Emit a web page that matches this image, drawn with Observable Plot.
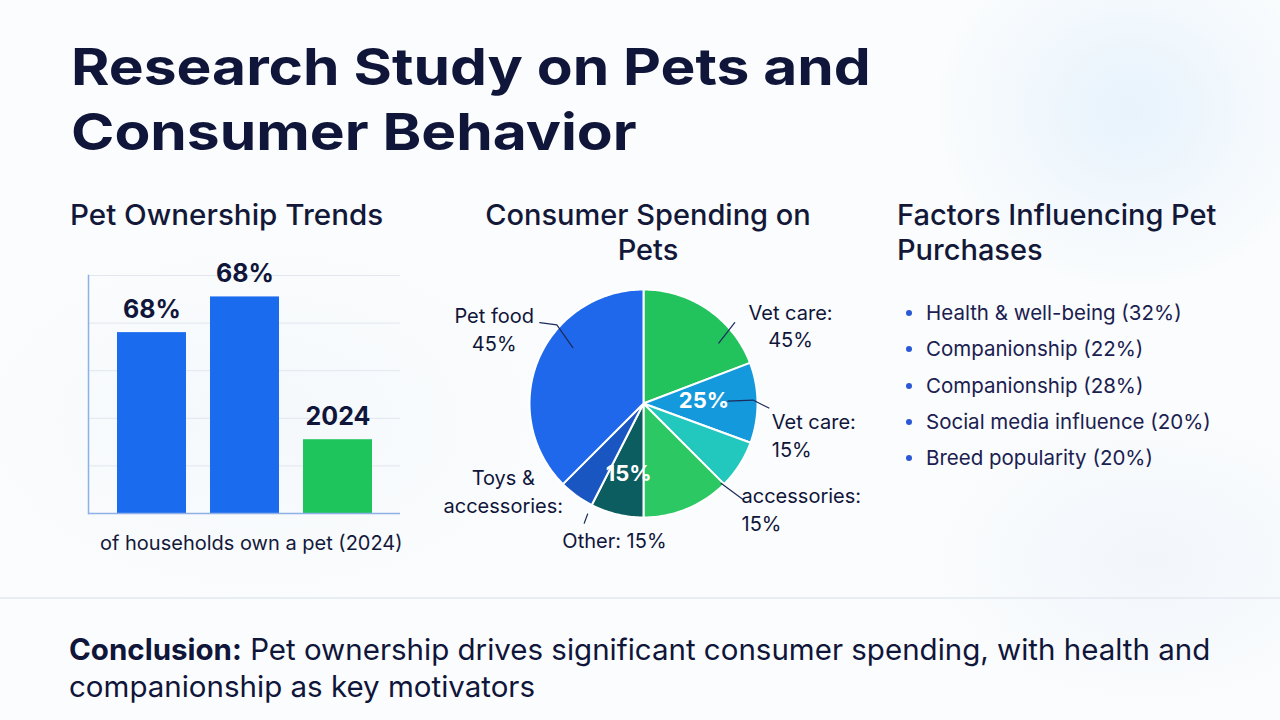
<!DOCTYPE html>
<html>
<head>
<meta charset="utf-8">
<script src="https://cdn.jsdelivr.net/npm/d3@7"></script>
<script src="https://cdn.jsdelivr.net/npm/@observablehq/plot@0.6"></script>
<style>
  html, body { margin: 0; padding: 0; }
  body {
    width: 1280px; height: 720px; overflow: hidden; position: relative;
    background: #fafcfd;
    font-family: Inter, "Noto Sans", sans-serif;
    color: #10153a;
  }
  .bg {
    position: absolute; inset: 0;
    background:
      radial-gradient(ellipse 260px 240px at 1130px 110px, rgba(228,241,252,0.85), rgba(255,255,255,0) 75%),
      radial-gradient(ellipse 300px 200px at 1150px 560px, rgba(238,243,250,0.7), rgba(255,255,255,0) 75%),
      radial-gradient(ellipse 420px 260px at 260px 420px, rgba(242,246,251,0.6), rgba(255,255,255,0) 75%);
  }
  .abs { position: absolute; white-space: nowrap; }
  #title { left: 71px; top: 34px; font-size: 51px; font-weight: 700; line-height: 65px; transform: scaleX(1.15); transform-origin: left top; }
  .h2 { font-size: 29px; font-weight: 500; line-height: 35px; color: #131838; }
  #h-bar { left: 70px; top: 197px; transform: scaleX(1.02); transform-origin: left top; }
  #h-pie { left: 448px; top: 197px; width: 400px; text-align: center; }
  #h-fac { left: 897px; top: 197px; }
  #caption { left: 100px; top: 529px; font-size: 20px; line-height: 28px; color: #14193a; }
  #bars { left: 60px; top: 260px; }
  #pie { left: 430px; top: 260px; }
  #factors { left: 900px; top: 295px; margin: 0; padding: 0; list-style: none; font-size: 20.5px; line-height: 36.3px; color: #1a2050; }
  #factors li { position: relative; padding-left: 26px; }
  #factors li::before { content: ""; position: absolute; left: 6px; top: 15px; width: 6px; height: 6px; border-radius: 50%; background: #2a58d6; }
  #sep { left: 0; top: 597px; width: 1280px; height: 2px; background: #e8ecf3; }
  #conclusion { left: 69px; top: 631px; font-size: 29.5px; line-height: 37px; color: #10153a; }
  #conclusion b { font-weight: 700; }
</style>
</head>
<body>
<div class="bg"></div>
<div id="title" class="abs">Research Study on Pets and<br>Consumer Behavior</div>
<div id="h-bar" class="abs h2">Pet Ownership Trends</div>
<div id="h-pie" class="abs h2">Consumer Spending on<br>Pets</div>
<div id="h-fac" class="abs h2">Factors Influencing Pet<br>Purchases</div>
<div id="bars" class="abs"></div>
<div id="caption" class="abs">of households own a pet (2024)</div>
<div id="pie" class="abs"></div>
<ul id="factors" class="abs"></ul>
<div id="sep" class="abs"></div>
<div id="conclusion" class="abs"><b>Conclusion:</b> Pet ownership drives significant consumer spending, with health and<br>companionship as key motivators</div>

<script>
// ---------- Data ----------
// Bar chart: Pet Ownership Trends
const barCategories = ["2020", "2022", "2024"];
const barValues = [76, 91, 31];
const barLabels = ["68%", "68%", "2024"];

// Pie chart: Consumer Spending on Pets (clockwise from 12 o'clock)
const sliceNames = ["Vet care", "Vet care (services)", "Accessories", "Supplies", "Other", "Toys & accessories", "Pet food"];
const sliceValues = [19.2, 11.4, 6.9, 12.5, 7.5, 5.0, 37.5];

// Pie annotations
const pieLabelTexts = ["Pet food\n45%", "Vet care:\n45%", "Toys &\naccessories:", "Other: 15%", "Vet care:\n15%", "accessories:\n15%"];
const pieInnerTexts = ["25%", "15%"];

// Factors list
const factorNames = ["Health & well-being", "Companionship", "Companionship", "Social media influence", "Breed popularity"];
const factorShares = [32, 22, 28, 20, 20];

// ---------- Styles / layout ----------
const BLUE = "#1b6bef", GREEN = "#1ec45c", NAVY = "#10153a";
const sliceColors = ["#22c25c", "#1499dc", "#22c7bd", "#2cc863", "#0c5d60", "#1a56c2", "#1f67eb"];
// label placement in pie-radius units (centre = 0,0)
const pieLabelPos = [[-1.31, 0.66, "middle"], [1.29, 0.69, "middle"], [-1.23, -0.76, "middle"], [-0.255, -1.19, "middle"], [1.125, -0.27, "start"], [0.86, -0.92, "start"]];
const pieInnerPos = [[0.53, 0.02], [-0.13, -0.62]];
const leaders = [
  [[-0.91, 0.71], [-0.76, 0.69], [-0.62, 0.49]],
  [[0.80, 0.71], [0.66, 0.53]],
  [[0.74, 0.02], [0.96, 0.03], [1.10, -0.04]],
  [[0.68, -0.70], [0.87, -0.84]],
  [[-0.49, -0.97], [-0.52, -1.05]]
];

// ---------- Bar chart ----------
const barData = barCategories.map((c, i) => ({cat: c, value: barValues[i], label: barLabels[i]}));
const barPlot = Plot.plot({
  width: 360, height: 270,
  marginLeft: 28, marginRight: 20, marginTop: 15, marginBottom: 17,
  x: {domain: barCategories, paddingInner: 0.26, paddingOuter: 0.3, axis: null},
  y: {domain: [0, 100], axis: null},
  color: {domain: barCategories, range: [BLUE, BLUE, GREEN]},
  style: {background: "transparent", fontFamily: "Inter, sans-serif", overflow: "visible"},
  marks: [
    Plot.gridY([20, 40, 60, 80, 100], {stroke: "#e2e6ee", strokeOpacity: 1, strokeWidth: 1}),
    Plot.barY(barData, {x: "cat", y: "value", fill: "cat"}),
    Plot.text(barData, {x: "cat", y: "value", text: "label", dy: -23, fontSize: 25, fontWeight: 700, fill: NAVY}),
    Plot.ruleY([0], {stroke: "#8eb0e8", strokeWidth: 1.5}),
    Plot.frame({anchor: "left", stroke: "#8eb0e8", strokeWidth: 1.5})
  ]
});
document.getElementById("bars").appendChild(barPlot);

// ---------- Pie chart ----------
const W = 450, H = 300, CX = 213, CY = 143, R = 114;
const arcs = d3.pie().sort(null).value(d => d.value)(sliceNames.map((n, i) => ({name: n, value: sliceValues[i]})));
const piePts = [];
for (const a of arcs) {
  piePts.push({key: a.data.name, x: 0, y: 0});
  const steps = Math.max(2, Math.ceil((a.endAngle - a.startAngle) / (Math.PI / 180)));
  for (let k = 0; k <= steps; k++) {
    const t = a.startAngle + (a.endAngle - a.startAngle) * k / steps;
    piePts.push({key: a.data.name, x: Math.sin(t), y: Math.cos(t)});
  }
  piePts.push({key: a.data.name, x: 0, y: 0});
}
const labelData = pieLabelTexts.map((t, i) => ({text: t, x: pieLabelPos[i][0], y: pieLabelPos[i][1], anchor: pieLabelPos[i][2]}));
const innerData = pieInnerTexts.map((t, i) => ({text: t, x: pieInnerPos[i][0], y: pieInnerPos[i][1]}));
const leaderData = leaders.flatMap((pts, i) => pts.map(p => ({id: i, x: p[0], y: p[1]})));

const piePlot = Plot.plot({
  width: W, height: H, margin: 0,
  x: {domain: [-CX / R, (W - CX) / R], axis: null},
  y: {domain: [-(H - CY) / R, CY / R], axis: null},
  color: {domain: sliceNames, range: sliceColors},
  style: {background: "transparent", fontFamily: "Inter, sans-serif", overflow: "visible"},
  marks: [
    Plot.line(piePts, {x: "x", y: "y", z: "key", fill: "key", stroke: "white", strokeWidth: 2, curve: "linear"}),
    Plot.line(leaderData, {x: "x", y: "y", z: "id", stroke: "#1d2a5c", strokeWidth: 1.2}),
    Plot.text(labelData.filter(d => d.anchor === "middle"), {x: "x", y: "y", text: "text", fontSize: 20, lineHeight: 1.38, fill: NAVY, textAnchor: "middle"}),
    Plot.text(labelData.filter(d => d.anchor === "start"), {x: "x", y: "y", text: "text", fontSize: 20, lineHeight: 1.38, fill: NAVY, textAnchor: "start"}),
    Plot.text(innerData, {x: "x", y: "y", text: "text", fontSize: 22, fontWeight: 700, fill: "white"})
  ]
});
document.getElementById("pie").appendChild(piePlot);

// ---------- Factors list ----------
const ul = document.getElementById("factors");
factorNames.forEach((n, i) => {
  const li = document.createElement("li");
  li.textContent = `${n} (${factorShares[i]}%)`;
  ul.appendChild(li);
});
</script>
</body>
</html>
